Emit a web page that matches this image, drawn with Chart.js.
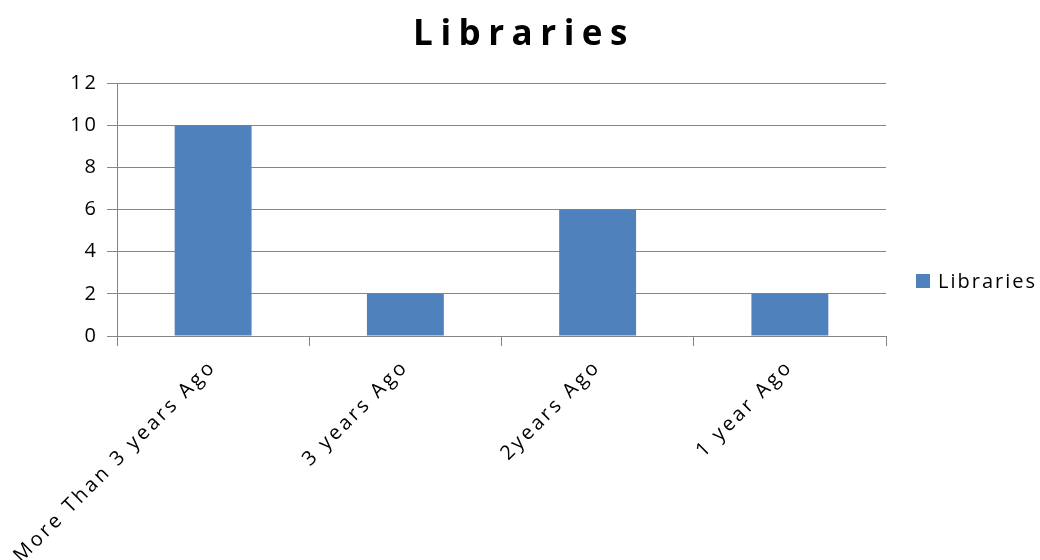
<!DOCTYPE html>
<html>
<head>
<meta charset="utf-8">
<script src="https://cdn.jsdelivr.net/npm/chart.js@4"></script>
<style>
  html, body { margin: 0; padding: 0; background: #ffffff; }
  #wrap { width: 1040px; height: 560px; position: relative; }
</style>
</head>
<body>
<div id="wrap"><canvas id="chart" width="1040" height="560"></canvas></div>
<script>
// Survey answers: when each library was last updated
const chartTitle = 'Libraries';
const seriesName = 'Libraries';
const categories = ['More Than 3 years Ago', '3 years Ago', '2years Ago', '1 year Ago'];
const libraryCounts = [10, 2, 6, 2];
const yMin = 0;
const yMax = 12;
const yStep = 2;

const barColor = '#4f81bd';
const gridColor = '#868686';
const textColor = '#000000';
const fontFamily = '"Open Sans", "DejaVu Sans", sans-serif';

// Spaced title and a right-hand legend entry, drawn on top of the chart
const decorations = {
  id: 'decorations',
  beforeDraw(chart) {
    chart.ctx.letterSpacing = '3px';
  },
  afterDraw(chart) {
    const ctx = chart.ctx;
    ctx.save();
    ctx.fillStyle = textColor;
    ctx.letterSpacing = '7.5px';
    ctx.font = 'bold 35px ' + fontFamily;
    ctx.textAlign = 'center';
    ctx.textBaseline = 'alphabetic';
    ctx.fillText(chartTitle, 524, 45);

    const ds = chart.data.datasets[0];
    ctx.fillStyle = ds.backgroundColor;
    ctx.fillRect(916, 274, 14, 14);
    ctx.fillStyle = textColor;
    ctx.letterSpacing = '2px';
    ctx.font = '20px ' + fontFamily;
    ctx.textAlign = 'left';
    ctx.textBaseline = 'middle';
    ctx.fillText(ds.label, 938, 282);
    ctx.restore();
    ctx.letterSpacing = '0px';
  }
};

new Chart(document.getElementById('chart'), {
  type: 'bar',
  data: {
    labels: categories,
    datasets: [{
      label: seriesName,
      data: libraryCounts,
      backgroundColor: barColor,
      borderWidth: 0,
      categoryPercentage: 1.0,
      barPercentage: 0.4
    }]
  },
  options: {
    responsive: false,
    animation: false,
    devicePixelRatio: 1,
    layout: { padding: { left: 0, top: 83, right: 154, bottom: 0 } },
    plugins: {
      legend: { display: false },
      title: { display: false },
      tooltip: { enabled: false }
    },
    scales: {
      x: {
        offset: true,
        grid: {
          offset: true,
          drawOnChartArea: false,
          drawTicks: true,
          tickLength: 10,
          color: gridColor,
          lineWidth: 1
        },
        border: { display: true, color: gridColor, width: 1 },
        ticks: {
          autoSkip: false,
          minRotation: 45,
          maxRotation: 45,
          padding: 9,
          color: textColor,
          font: { family: fontFamily, size: 20 }
        },
        afterFit(scale) {
          scale.height = 224;
          scale.paddingLeft = 0;
          scale.paddingRight = 0;
        }
      },
      y: {
        min: yMin,
        max: yMax,
        grid: {
          color: gridColor,
          lineWidth: 1,
          drawTicks: true,
          tickLength: 10
        },
        border: { display: true, color: gridColor, width: 1 },
        ticks: {
          stepSize: yStep,
          padding: 8,
          color: textColor,
          font: { family: fontFamily, size: 20 }
        },
        afterFit(scale) {
          scale.width = 117;
          scale.paddingTop = 0;
          scale.paddingBottom = 0;
        }
      }
    }
  },
  plugins: [decorations]
});
</script>
</body>
</html>
